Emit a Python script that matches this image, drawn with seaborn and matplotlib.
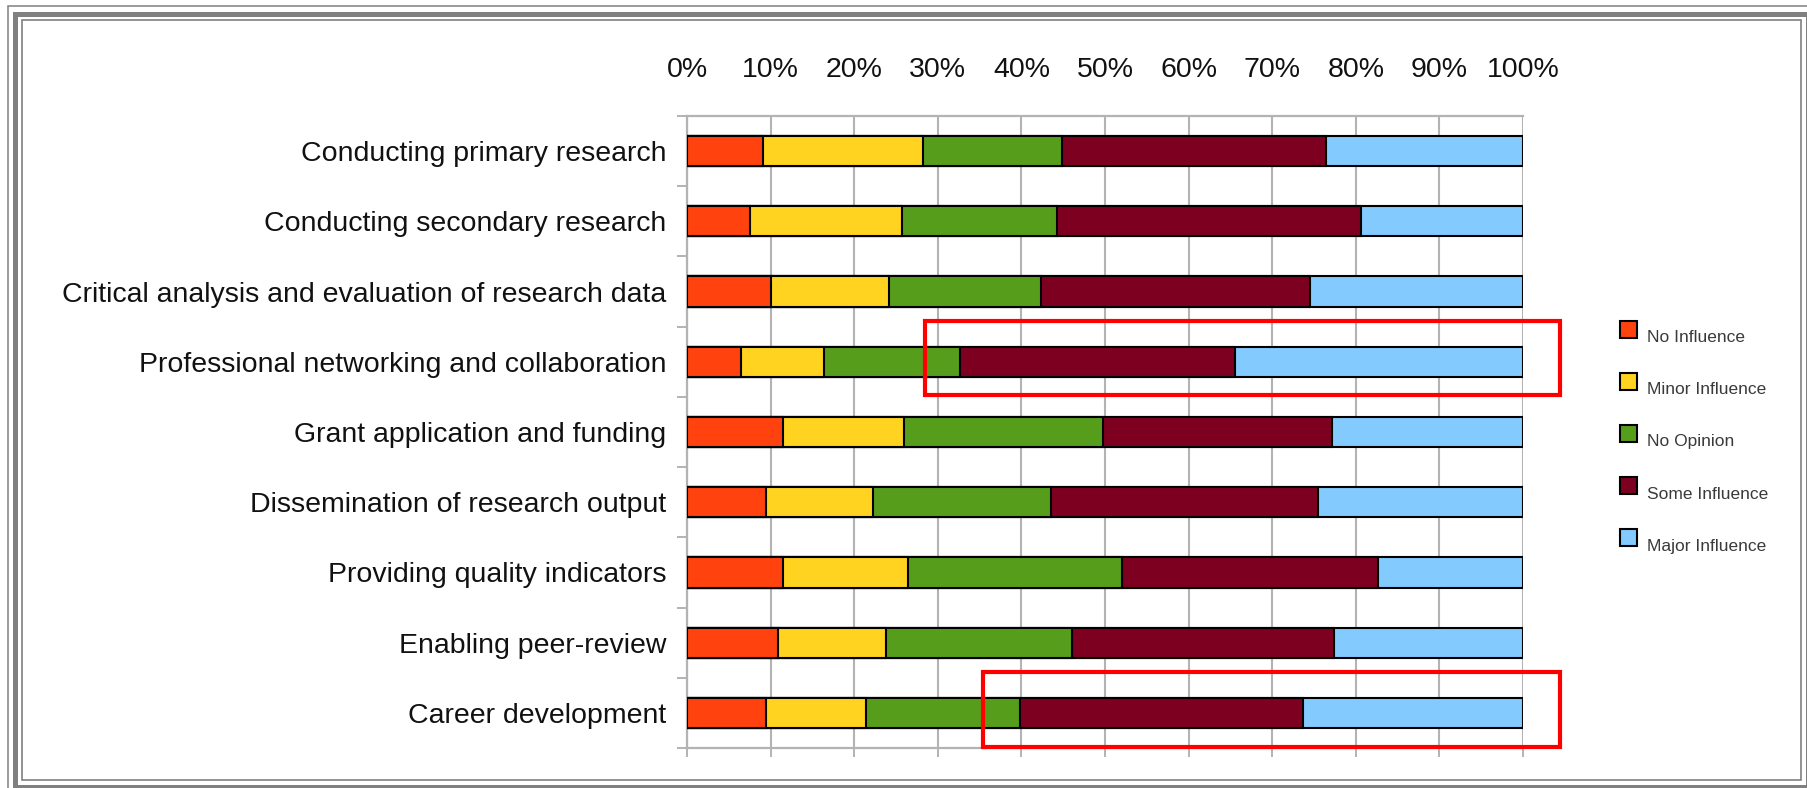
import matplotlib
matplotlib.use("Agg")
import numpy as np
import pandas as pd
import matplotlib.pyplot as plt
import seaborn as sns
from matplotlib.patches import Rectangle

# --- Data (percent of respondents) ---
CATEGORIES = [
    "Conducting primary research",
    "Conducting secondary research",
    "Critical analysis and evaluation of research data",
    "Professional networking and collaboration",
    "Grant application and funding",
    "Dissemination of research output",
    "Providing quality indicators",
    "Enabling peer-review",
    "Career development",
]
LEVELS = ["No Influence", "Minor Influence", "No Opinion", "Some Influence", "Major Influence"]

no_influence = [9.1, 7.5, 10.0, 6.5, 11.5, 9.4, 11.5, 10.9, 9.4]
minor_influence = [19.1, 18.2, 14.2, 9.9, 14.5, 12.8, 14.9, 12.9, 12.0]
no_opinion = [16.6, 18.5, 18.2, 16.2, 23.8, 21.4, 25.6, 22.2, 18.4]
some_influence = [31.6, 36.4, 32.1, 32.9, 27.3, 31.9, 30.7, 31.4, 33.9]
major_influence = [23.6, 19.4, 25.5, 34.5, 22.9, 24.5, 17.3, 22.6, 26.3]

TICKS = list(range(0, 101, 10))
TICK_LABELS = [f"{t}%" for t in TICKS]

COLORS = ["#ff420e", "#ffd320", "#579d1c", "#7e0021", "#83caff"]

# highlighted rows (category, start %)
HIGHLIGHTS = [("Professional networking and collaboration", 28.5),
              ("Career development", 35.4)]

# --- Build table ---
df = pd.DataFrame({
    "Category": CATEGORIES,
    LEVELS[0]: no_influence,
    LEVELS[1]: minor_influence,
    LEVELS[2]: no_opinion,
    LEVELS[3]: some_influence,
    LEVELS[4]: major_influence,
})
cum = df[LEVELS].cumsum(axis=1)

sns.set_theme(style="white")
plt.rcParams["font.family"] = ["Liberation Sans", "DejaVu Sans"]

W, H = 1807, 788
fig = plt.figure(figsize=(W / 100, H / 100), dpi=100)
ax = fig.add_axes([687 / W, 1 - 748 / H, (1523 - 687) / W, (748 - 116) / H])

# stacked bars: draw cumulative totals from the largest down
for level, color in reversed(list(zip(LEVELS, COLORS))):
    sns.barplot(x=cum[level], y=df["Category"], color=color, orient="h",
                saturation=1, edgecolor="black", linewidth=1.5, width=0.43,
                ax=ax, zorder=3)

ax.set_xlim(0, 100)
ax.set_ylim(len(CATEGORIES) - 0.5, -0.5)
ax.set_xlabel("")
ax.set_ylabel("")

ax.set_xticks(TICKS)
ax.set_xticklabels(TICK_LABELS)
ax.grid(axis="x", color="#b3b3b3", linewidth=1.5, zorder=0)
ax.tick_params(axis="x", bottom=True, top=False, labelbottom=False, labeltop=True,
               length=6.5, width=1.4, color="#b3b3b3", pad=17, labelsize=20.5,
               labelcolor="#111111")
ax.tick_params(axis="y", which="major", length=0, pad=15, labelsize=20.5,
               labelcolor="#111111")
ax.set_yticks(np.arange(-0.5, len(CATEGORIES), 1.0), minor=True)
ax.tick_params(axis="y", which="minor", left=True, length=7, width=1.4, color="#b3b3b3")

for side in ["top", "bottom", "left"]:
    ax.spines[side].set_color("#b3b3b3")
    ax.spines[side].set_linewidth(1.6)
ax.spines["right"].set_visible(False)

# red highlight boxes
for cat, start in HIGHLIGHTS:
    i = CATEGORIES.index(cat)
    ax.add_patch(Rectangle((start, i - 0.58), 104.4 - start, 1.06, fill=False,
                           edgecolor="#ff0000", linewidth=3.0, clip_on=False, zorder=5))

# legend (square markers with the label sitting slightly lower)
for k, (level, color) in enumerate(zip(LEVELS, COLORS)):
    yc = 329 + k * 52.2
    fig.add_artist(Rectangle((1620 / W, 1 - (yc + 8.5) / H), 17 / W, 17 / H,
                             transform=fig.transFigure, facecolor=color,
                             edgecolor="black", linewidth=1.5))
    fig.text(1647 / W, 1 - (yc + 8.5) / H, level, fontsize=12.5, color="#3a3a3a",
             ha="left", va="center")

# double picture frame (pixel edges: left, top, right, bottom)
def frame(l, t, r, b, lw):
    fig.add_artist(Rectangle((l / W, 1 - b / H), (r - l) / W, (b - t) / H,
                             transform=fig.transFigure, fill=False,
                             edgecolor="#808080", linewidth=lw))

frame(7.5, 5.5, 1814.5, 800, 1.1)
frame(14.5, 13.5, 1807.5, 786.5, 3.6)
frame(21.5, 20, 1800.5, 779.5, 1.2)

fig.savefig("out.png", dpi=100)
